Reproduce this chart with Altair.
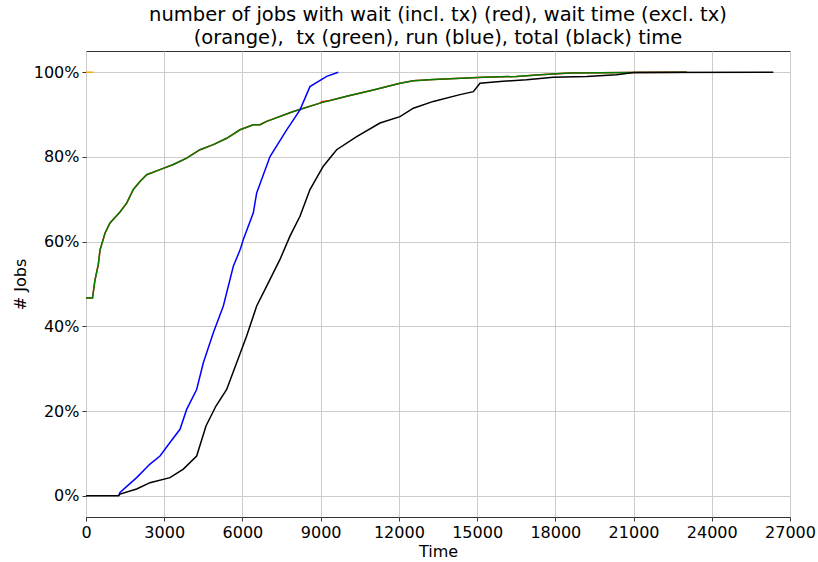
import altair as alt
import pandas as pd

# ---- data ----
green_t = [0, 250, 345, 470, 537, 729, 920, 1304, 1560, 1815, 2071, 2327, 2838, 3349, 3861,
           4372, 4883, 5395, 5906, 6417, 6673, 6929, 7952, 8974, 9997, 11020, 12042, 12554,
           13320, 14600, 15240, 16500, 17420, 18560, 20860, 23040]
green_y = [0.467, 0.467, 0.51, 0.545, 0.58, 0.62, 0.644, 0.670, 0.691, 0.723, 0.742, 0.758,
           0.770, 0.782, 0.797, 0.817, 0.829, 0.844, 0.864, 0.876, 0.876, 0.884, 0.907, 0.927,
           0.943, 0.958, 0.974, 0.980, 0.983, 0.986, 0.988, 0.990, 0.994, 0.998, 0.999, 1.0]

red_t = [0, 250, 345, 470, 537, 729, 920, 1304, 1560, 1815, 2071, 2327, 2838, 3349, 3861,
         4372, 4883, 5395, 5906, 6417, 6673, 6929, 7952, 8974, 9040, 9360, 9997, 11020, 12042,
         12554, 13320, 14600, 15240, 16500, 17420, 18560, 20860, 23040]
red_y = [0.467, 0.467, 0.51, 0.545, 0.58, 0.62, 0.644, 0.670, 0.691, 0.723, 0.742, 0.758,
         0.770, 0.782, 0.797, 0.817, 0.829, 0.844, 0.864, 0.876, 0.876, 0.884, 0.907, 0.927,
         0.930, 0.933, 0.943, 0.958, 0.974, 0.980, 0.983, 0.986, 0.988, 0.990, 0.994, 0.998,
         0.999, 1.0]

orange_t = [0, 270]
orange_y = [1.0, 1.0]

blue_t = [1250, 1304, 1943, 2454, 2838, 3221, 3605, 3861, 4244, 4500, 4883, 5267, 5650, 5906,
          6034, 6417, 6546, 7057, 7697, 8207, 8590, 9230, 9676]
blue_y = [0.0, 0.008, 0.043, 0.075, 0.094, 0.126, 0.157, 0.204, 0.251, 0.314, 0.385, 0.448,
          0.542, 0.58, 0.605, 0.668, 0.715, 0.801, 0.864, 0.911, 0.966, 0.990, 1.0]

black_t = [0, 1250, 1304, 1943, 2454, 3221, 3733, 4244, 4602, 4985, 5395, 5778, 6161, 6546,
           6929, 7440, 7823, 8207, 8590, 9101, 9613, 10380, 11275, 12042, 12554, 13320, 14343,
           14855, 15110, 15877, 16900, 17920, 19200, 20350, 21000, 26360]
black_y = [0.0, 0.0, 0.004, 0.016, 0.031, 0.043, 0.063, 0.094, 0.165, 0.212, 0.251, 0.314,
           0.377, 0.448, 0.495, 0.558, 0.613, 0.660, 0.723, 0.778, 0.817, 0.848, 0.880, 0.895,
           0.915, 0.931, 0.947, 0.954, 0.974, 0.978, 0.982, 0.988, 0.990, 0.994, 0.999, 1.0]

x_ticks = [0, 3000, 6000, 9000, 12000, 15000, 18000, 21000, 24000, 27000]
y_ticks = [0, 0.2, 0.4, 0.6, 0.8, 1.0]

FONT = "DejaVu Sans"

x_enc = alt.X("t:Q",
              scale=alt.Scale(domain=[0, 27000], nice=False, zero=False),
              axis=alt.Axis(values=x_ticks, format="d", title="Time"))
y_enc = alt.Y("y:Q",
              scale=alt.Scale(domain=[-0.05, 1.05], nice=False, zero=False),
              axis=alt.Axis(values=y_ticks, format=".0%", title="# Jobs"))


def line(t, y, color):
    df = pd.DataFrame({"t": t, "y": y})
    return alt.Chart(df).mark_line(color=color, strokeWidth=1.5, clip=True).encode(
        x=x_enc, y=y_enc)


chart = alt.layer(
    line(red_t, red_y, "red"),
    line(orange_t, orange_y, "orange"),
    line(green_t, green_y, "green"),
    line(blue_t, blue_y, "blue"),
    line(black_t, black_y, "black"),
).properties(
    width=704,
    height=466,
    title=alt.TitleParams(
        text=["number of jobs with wait (incl. tx) (red), wait time (excl. tx)",
              "(orange),\u00a0 tx (green), run (blue), total (black) time"],
        fontSize=19.5, font=FONT, fontWeight="normal", anchor="middle",
        lineHeight=23, offset=3, color="black"),
    autosize=alt.AutoSizeParams(type="none"),
    padding={"left": 86, "top": 51, "right": 28, "bottom": 45},
).configure_view(
    stroke="#333333", strokeWidth=1
).configure_axis(
    labelFont=FONT, titleFont=FONT, labelFontSize=16, titleFontSize=16,
    titleFontWeight="normal", labelColor="black", titleColor="black",
    grid=True, gridColor="#cccccc", gridWidth=1, labelFlush=False,
    domain=False, tickColor="#333333", tickSize=4, labelPadding=3, titlePadding=3,
).configure_axisY(
    titlePadding=5
)

chart.save("out.html", embed_options={"renderer": "svg", "actions": False})
